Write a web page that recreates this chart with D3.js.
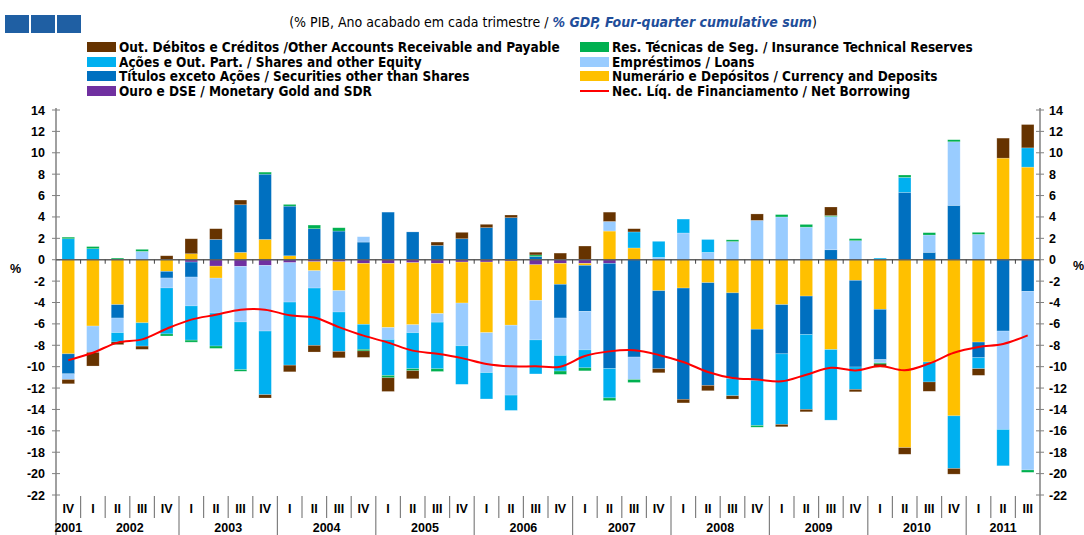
<!DOCTYPE html>
<html>
<head>
<meta charset="utf-8">
<script src="https://cdn.jsdelivr.net/npm/d3@7"></script>
<style>
    body { margin: 0; background: #ffffff; }
    svg { display: block; }
    .narrow { font-family: "Liberation Sans Narrow", "Arial Narrow", "DejaVu Sans Condensed", sans-serif; }
    .axis-label { font-family: "Liberation Sans", Arial, sans-serif; font-weight: bold; font-size: 12.5px; }
</style>
</head>
<body>
<svg id="chart" width="1084" height="535"></svg>
<script>
// Quarters shown on the x axis
const quarters = ["IV",
    "I", "II", "III", "IV", "I", "II", "III", "IV", "I", "II", "III", "IV",
    "I", "II", "III", "IV", "I", "II", "III", "IV", "I", "II", "III", "IV",
    "I", "II", "III", "IV", "I", "II", "III", "IV", "I", "II", "III", "IV",
    "I", "II", "III"];
const years = ["2001", "2002", "2003", "2004", "2005", "2006", "2007", "2008", "2009", "2010", "2011"];
const quartersPerYear = [1, 4, 4, 4, 4, 4, 4, 4, 4, 4, 3];

// Series values (% GDP), stacked from zero outward in this order
const gold = [0, 0, 0, 0, 0, -0.22, -0.6, -0.62, -0.53, -0.28, -0.19, -0.19, -0.34, -0.34, -0.28, -0.34, -0.22, -0.22, -0.12, -0.47,
    -0.34, -0.34, -0.34, 0, 0, 0, 0, 0, 0, 0, 0, 0, 0, 0, 0, 0, 0, 0, 0, 0];
const currency = [-8.8, -6.2, -4.2, -5.9, -1.09, 0.56, -1.12, 0.69, 1.9, 0.37, -0.84, -2.7, -5.7, -6.0, -5.8, -4.7, -3.83, -6.6, -6.0, -3.33,
    -1.96, -0.19, 2.68, 1.1, -2.9, -2.65, -2.15, -3.1, -6.5, -4.2, -3.4, -8.4, -1.93, -4.64, -17.57, -9.56, -14.6, -7.7, 9.5, 8.66];
const securities = [-1.87, 0, -1.25, 0, -0.62, -1.4, 1.9, 4.45, 6.1, 4.64, 2.9, 2.68, 1.65, 4.45, 2.6, 1.34, 1.96, 3.0, 3.93, 0.3,
    -3.15, -4.3, -9.84, -9.1, -7.3, -10.4, -9.6, -8.0, -4.8, -4.6, -3.6, 0.93, -8.1, -4.7, 6.3, 0.69, 5.08, -1.46, -6.67, -2.96];
const loans = [-0.53, -2.46, -1.37, 0.78, -0.93, -2.7, -3.27, -5.2, -6.14, -3.68, -1.62, -2.0, 0.5, -1.12, -0.75, -0.8, -4.0, -3.74, -6.54, -3.7,
    -3.5, -3.6, 0.9, -2.1, 0.22, 2.5, 0.69, 1.7, 3.68, 4.0, 3.05, 3.1, 1.78, -0.31, 0, 1.62, 5.95, 2.37, -9.2, -16.7];
const shares = [1.96, 1.03, -0.87, -2.18, -4.3, -3.2, -3.08, -4.45, -5.95, -5.9, -5.36, -3.68, -2.34, -3.36, -3.36, -4.36, -3.6, -2.46, -1.43, -3.18,
    -1.46, -1.68, -2.74, 1.5, 1.5, 1.3, 1.2, -1.62, -4.2, -6.6, -7.0, -6.6, -2.1, 0.15, 1.4, -1.87, -4.92, -1.03, -3.4, 1.8];
const insurance = [0.15, 0.2, 0.15, 0.19, -0.19, -0.19, -0.22, -0.16, 0.19, 0.16, 0.34, 0.31, -0.15, -0.22, -0.19, -0.25, 0, 0, 0, 0.15,
    -0.31, -0.28, -0.25, -0.28, 0, 0, 0, 0.16, -0.16, 0.22, 0.25, 0.1, 0.19, -0.1, 0.22, 0.22, 0.19, 0.19, 0, -0.22];
const otherAccounts = [-0.4, -1.28, -0.25, -0.3, 0.37, 1.4, 1.0, 0.44, -0.31, -0.62, -0.62, -0.6, -0.6, -1.28, -0.75, 0.31, 0.6, 0.31, 0.25, 0.25,
    0.62, 1.28, 0.87, 0.3, -0.37, -0.34, -0.5, -0.31, 0.6, -0.22, -0.22, 0.8, -0.22, -0.3, -0.62, -0.87, -0.53, -0.62, 1.87, 2.18];

// Net borrowing line
const netBorrowing = [-9.4, -8.7, -7.75, -7.45, -6.45, -5.6, -5.15, -4.67, -4.67, -5.2, -5.4, -6.3, -7.1, -7.75, -8.5, -8.8, -9.2, -9.75, -9.97, -9.97,
    -10.0, -9.0, -8.57, -8.47, -8.9, -9.56, -10.5, -11.06, -11.2, -11.37, -10.75, -10.1, -10.35, -9.93, -10.34, -9.7, -8.7, -8.16, -7.88, -7.07];

const yTicks = [14, 12, 10, 8, 6, 4, 2, 0, -2, -4, -6, -8, -10, -12, -14, -16, -18, -20, -22];

// Series definitions: key, values, colour, legend label
const seriesList = [
    {key: "gold", values: gold, color: "#7030a0", label: "Ouro e DSE / Monetary Gold and SDR"},
    {key: "currency", values: currency, color: "#ffc000", label: "Numerário e Depósitos / Currency and Deposits"},
    {key: "securities", values: securities, color: "#0070c0", label: "Títulos exceto Ações / Securities other than Shares"},
    {key: "loans", values: loans, color: "#99ccff", label: "Empréstimos / Loans"},
    {key: "shares", values: shares, color: "#00b0f0", label: "Ações e Out. Part. / Shares and other Equity"},
    {key: "insurance", values: insurance, color: "#00b050", label: "Res. Técnicas de Seg. / Insurance Technical Reserves"},
    {key: "other", values: otherAccounts, color: "#663300", label: "Out. Débitos e Créditos /Other Accounts Receivable and Payable"}
];

// Legend layout by column
const legendLeft = ["other", "shares", "securities", "gold"];
const legendRight = ["insurance", "loans", "currency", "line"];


function StackedChart(element) {
    this.element = element;
    this.svg = d3.select(element);

    this.init = function () {
        let me = this;

        me.plot = {left: 56, right: 1040, top: 110, bottom: 495};

        me.x = d3.scaleBand()
            .domain(d3.range(quarters.length))
            .range([me.plot.left, me.plot.right])
            .paddingInner(0.49)
            .paddingOuter(0.245);

        me.y = d3.scaleLinear()
            .domain([-22, 14])
            .range([me.plot.bottom, me.plot.top]);

        me.drawHeader();
        me.drawLegend();
        me.drawBars();
        me.drawAxes();
        me.drawLine();
    };


    /**
     * Blue squares and subtitle
     */
    this.drawHeader = function () {
        let me = this;

        me.svg.append("g").selectAll("rect")
            .data([0, 1, 2])
            .join("rect")
            .attr("x", d => 5 + d * 26)
            .attr("y", 15)
            .attr("width", 24)
            .attr("height", 18)
            .attr("fill", "#1f5fa3");

        let sub = me.svg.append("text")
            .attr("class", "narrow")
            .attr("x", 553)
            .attr("y", 27)
            .attr("text-anchor", "middle")
            .attr("font-size", "14px");
        sub.append("tspan").attr("fill", "#000").text("(% PIB, Ano acabado em cada trimestre  / ");
        sub.append("tspan").attr("fill", "#1f4e9a").attr("font-weight", "bold").attr("font-style", "italic")
            .text("% GDP, Four-quarter cumulative sum");
        sub.append("tspan").attr("fill", "#000").text(")");
    };


    /**
     * Two column legend
     */
    this.drawLegend = function () {
        let me = this;
        let rowY = [47, 62, 76, 91];
        let cols = [{keys: legendLeft, x: 87}, {keys: legendRight, x: 580}];

        cols.forEach(function (col) {
            col.keys.forEach(function (key, i) {
                let g = me.svg.append("g").attr("transform", "translate(" + col.x + "," + rowY[i] + ")");
                let label;
                if (key === "line") {
                    g.append("line")
                        .attr("x1", 0).attr("x2", 29)
                        .attr("y1", 0).attr("y2", 0)
                        .attr("stroke", "#ff0000")
                        .attr("stroke-width", 2);
                    label = "Nec. Líq. de Financiamento / Net Borrowing";
                } else {
                    let s = seriesList.find(d => d.key === key);
                    g.append("rect")
                        .attr("x", 0).attr("y", -5)
                        .attr("width", 29).attr("height", 10)
                        .attr("fill", s.color);
                    label = s.label;
                }
                g.append("text")
                    .attr("class", "narrow")
                    .attr("x", 32)
                    .attr("y", 5)
                    .attr("font-size", "13.5px")
                    .attr("font-weight", "bold")
                    .attr("fill", "#000")
                    .text(label);
            });
        });
    };


    /**
     * Diverging stacked bars
     */
    this.drawBars = function () {
        let me = this;

        let rows = quarters.map(function (q, i) {
            let row = {index: i};
            seriesList.forEach(s => row[s.key] = s.values[i]);
            return row;
        });

        let stacked = d3.stack()
            .keys(seriesList.map(s => s.key))
            .offset(d3.stackOffsetDiverging)(rows);

        me.svg.append("g")
            .selectAll("g")
            .data(stacked)
            .join("g")
            .attr("fill", (d, i) => seriesList[i].color)
            .selectAll("rect")
            .data(d => d.filter(p => p[1] !== p[0]))
            .join("rect")
            .attr("x", d => me.x(d.data.index))
            .attr("width", me.x.bandwidth())
            .attr("y", d => me.y(Math.max(d[0], d[1])))
            .attr("height", d => Math.abs(me.y(d[0]) - me.y(d[1])))
            .attr("stroke", "#ffffff")
            .attr("stroke-opacity", 0.35)
            .attr("stroke-width", 0.6);
    };


    /**
     * Left / right value axes, zero line and category axis
     */
    this.drawAxes = function () {
        let me = this;
        let step = me.x.step();
        let axisColor = "#808080";

        // Value axes
        [{x: me.plot.left, side: -1}, {x: me.plot.right, side: 1}].forEach(function (ax) {
            let g = me.svg.append("g");
            g.append("line")
                .attr("x1", ax.x).attr("x2", ax.x)
                .attr("y1", me.plot.top - 2).attr("y2", 535)
                .attr("stroke", axisColor).attr("stroke-width", 1.5);
            g.selectAll("line.tick")
                .data(yTicks)
                .join("line")
                .attr("class", "tick")
                .attr("x1", ax.x - 4).attr("x2", ax.x + 4)
                .attr("y1", d => me.y(d)).attr("y2", d => me.y(d))
                .attr("stroke", axisColor);
            g.selectAll("text")
                .data(yTicks)
                .join("text")
                .attr("class", "axis-label")
                .attr("x", ax.side < 0 ? ax.x - 11 : ax.x + 9)
                .attr("y", d => me.y(d) + 4.5)
                .attr("text-anchor", ax.side < 0 ? "end" : "start")
                .text(d => d);
        });

        me.svg.append("text").attr("class", "axis-label")
            .attr("x", 10).attr("y", 273).text("%");
        me.svg.append("text").attr("class", "axis-label")
            .attr("x", 1073).attr("y", 270).text("%");

        // Zero line with small category ticks
        let zero = me.y(0);
        me.svg.append("line")
            .attr("x1", me.plot.left).attr("x2", me.plot.right)
            .attr("y1", zero).attr("y2", zero)
            .attr("stroke", "#606060").attr("stroke-width", 1.5);
        me.svg.append("g").selectAll("line")
            .data(d3.range(1, quarters.length))
            .join("line")
            .attr("x1", k => me.plot.left + k * step).attr("x2", k => me.plot.left + k * step)
            .attr("y1", zero).attr("y2", zero + 4)
            .attr("stroke", "#404040");

        // Quarter labels and separators
        let yearStarts = [];
        let acc = 0;
        quartersPerYear.forEach(function (n) {
            yearStarts.push(acc);
            acc += n;
        });

        me.svg.append("g").selectAll("line")
            .data(d3.range(1, quarters.length))
            .join("line")
            .attr("x1", k => me.plot.left + k * step).attr("x2", k => me.plot.left + k * step)
            .attr("y1", 496)
            .attr("y2", k => (yearStarts.indexOf(k) > 1 ? 535 : 518))
            .attr("stroke", axisColor).attr("stroke-width", 1.2);

        me.svg.append("g").selectAll("text")
            .data(quarters)
            .join("text")
            .attr("class", "axis-label")
            .attr("x", (d, i) => me.x(i) + me.x.bandwidth() / 2)
            .attr("y", 513)
            .attr("text-anchor", "middle")
            .text(d => d);

        me.svg.append("g").selectAll("text")
            .data(years)
            .join("text")
            .attr("class", "axis-label")
            .attr("x", (d, i) => me.plot.left + (yearStarts[i] + quartersPerYear[i] / 2) * step)
            .attr("y", 532)
            .attr("text-anchor", "middle")
            .text(d => d);
    };


    /**
     * Net borrowing line
     */
    this.drawLine = function () {
        let me = this;
        let line = d3.line()
            .x((d, i) => me.x(i) + me.x.bandwidth() / 2)
            .y(d => me.y(d))
            .curve(d3.curveCatmullRom.alpha(0.5));

        me.svg.append("path")
            .datum(netBorrowing)
            .attr("d", line)
            .attr("fill", "none")
            .attr("stroke", "#ff0000")
            .attr("stroke-width", 2);
    };


    this.init();
}

new StackedChart(document.getElementById("chart"));
</script>
</body>
</html>
